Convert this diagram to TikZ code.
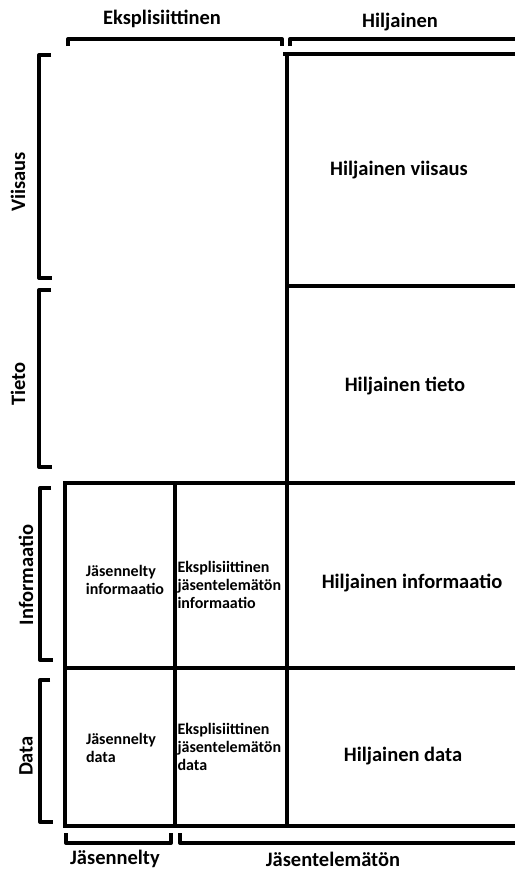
\documentclass[tikz,border=0pt]{standalone}
\usepackage{fontspec}
\setmainfont{Carlito}
\usetikzlibrary{positioning}

\tikzset{
	rule/.style={line width=4pt},
	brace/.style={line width=4pt, line join=round},
	axislabel/.style={font=\bfseries\fontsize{20.5}{24}\selectfont},
	biglabel/.style={font=\bfseries\fontsize{20.5}{24}\selectfont},
	smalllabel/.style={font=\bfseries\fontsize{16}{18}\selectfont, align=left},
}

\begin{document}
\begin{tikzpicture}[x=1pt, y=-1pt]
		\useasboundingbox (0,0) rectangle (515,870);

		\coordinate (gTL) at (287, 54);
		\coordinate (gTR) at (515, 54);
		\coordinate (gA)  at (287,826);
		\coordinate (gB)  at ( 65,483);
		\coordinate (gC)  at ( 65,826);
		\coordinate (gD)  at (175,483);
		\coordinate (gE)  at (175,826);

		\draw[rule] (283,54) -- (gTR);
		\draw[rule] (gTL) -- (gA);
		\draw[rule] (287,286) -- (515,286);
		\draw[rule] (63,483) -- (515,483);
		\draw[rule] (63,668) -- (515,668);
		\draw[rule] (63,826) -- (515,826);
		\draw[rule] (gB) -- (gC);
		\draw[rule] (gD) -- (gE);

		\draw[brace] ( 68, 46) -- ( 68, 39) -- (282, 39) -- (282, 46);
		\draw[brace] (290, 46) -- (290, 39) -- (515, 39);

		\draw[brace] ( 51, 55) -- ( 39, 55) -- ( 39,278) -- ( 52,278);
		\draw[brace] ( 51,290) -- ( 39,290) -- ( 39,467) -- ( 52,467);
		\draw[brace] ( 51,488) -- ( 40,488) -- ( 40,660) -- ( 53,660);
		\draw[brace] ( 50,680) -- ( 40,680) -- ( 40,822) -- ( 53,822);

		\draw[brace] ( 66,833) -- ( 66,843) -- (171,843) -- (171,833);
		\draw[brace] (180,833) -- (180,843) -- (515,843);

		\node[axislabel] (eksp) at (162, 19) {Eksplisiittinen};
		\node[axislabel] (hilj) at (400, 22) {Hiljainen};
		\node[axislabel] (jas)  at (115,859) {Jäsennelty};
		\node[axislabel] (jast) at (333,859) {Jäsentelemätön};

		\node[axislabel, rotate=90] (viis) at (18,182) {Viisaus};
		\node[axislabel, rotate=90] (tiet) at (18,384) {Tieto};
		\node[axislabel, rotate=90] (info) at (26,575) {Informaatio};
		\node[axislabel, rotate=90] (data) at (26,756) {Data};

		\node[biglabel] (hviis) at (399,170) {Hiljainen viisaus};
		\node[biglabel] (htiet) at (405,386) {Hiljainen tieto};
		\node[biglabel] (hinfo) at (412,583) {Hiljainen informaatio};
		\node[biglabel] (hdata) at (403,756) {Hiljainen data};

		\node[smalllabel] (jinfo) at (125,580) {Jäsennelty\\informaatio};
		\node[smalllabel] (jdata) at (121,748) {Jäsennelty\\data};
		\node[smalllabel, anchor=west] (einfo) at (174,585) {Eksplisiittinen\\jäsentelemätön\\informaatio};
		\node[smalllabel, anchor=west] (edata) at (174,747) {Eksplisiittinen\\jäsentelemätön\\data};
	\end{tikzpicture}
\end{document}
